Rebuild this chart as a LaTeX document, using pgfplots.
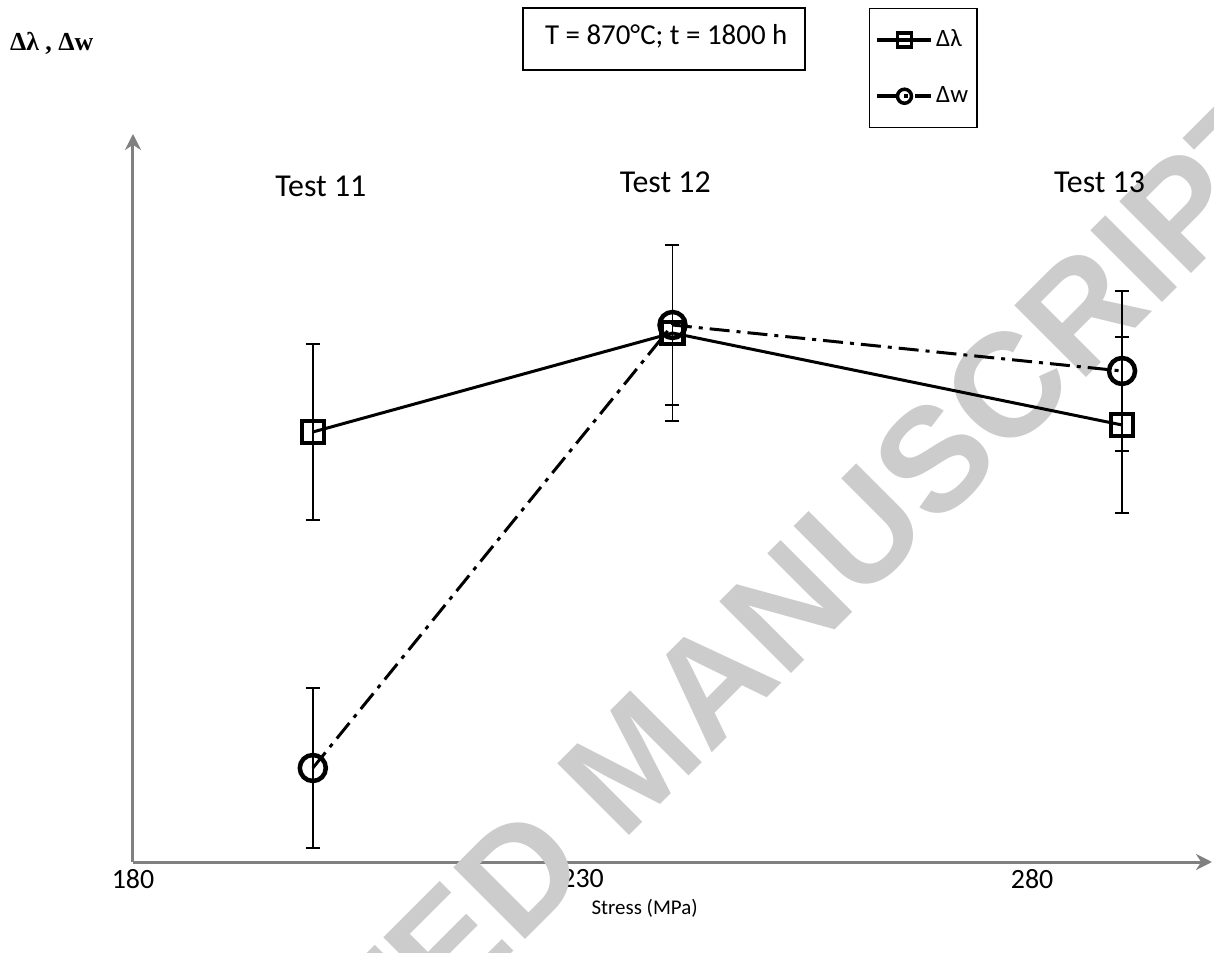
\documentclass[border=0pt]{standalone}
\usepackage{fontspec}
\setmainfont{Carlito}
\newfontfamily\seriffont{Liberation Serif}
\newfontfamily\wmfont{Liberation Sans}
\usepackage{pgfplots}
\pgfplotsset{compat=1.18}
\usetikzlibrary{arrows.meta}
\begin{document}
\begin{tikzpicture}
\useasboundingbox (-133bp,-91bp) rectangle (1081bp,862bp);
\begin{axis}[
  at={(0,0)}, anchor=south west,
  scale only axis, width=1079bp, height=728bp,
  xmin=180, xmax=300, ymin=0, ymax=728,
  axis lines=left,
  axis line style={draw=gray, line width=3bp, -{Stealth[length=16bp,width=16bp]}},
  xtick={180,230,280}, xticklabels={180,230,280},
  major tick length=0, ytick=\empty,
  xticklabel style={font=\fontsize{28}{32}\selectfont, yshift=-4bp},
  clip=false,
  legend style={at={(0.6821,1.1731)}, anchor=north west, draw=black, line width=1.5bp,
    inner xsep=6bp, inner ysep=20bp, row sep=33bp,
    font=\fontsize{25}{28}\selectfont,
    nodes={inner sep=3bp, text height=15bp, text depth=2bp}},
  legend cell align=left,
  legend image code/.code={\draw[#1, line width=3.5bp, mark size=7bp, mark options={line width=3.5bp, solid}, mark repeat=2, mark phase=2] plot coordinates {(0bp,0bp) (27bp,0bp) (54bp,0bp)};},
]
\node[overlay, rotate=45, text=black!20, font=\wmfont\bfseries\fontsize{148}{160}\selectfont] at (axis cs:235.6,102) {ACCEPTED MANUSCRIPT};

\addplot[black, line width=3bp, mark=square, mark size=11bp, mark options={line width=4.5bp, solid},
  error bars/.cd, y dir=both, y explicit,
  error bar style={line width=1.5bp, solid},
  error mark options={rotate=90, line width=2.5bp, mark size=7bp}]
  coordinates {(200,430) +- (0,88) (240,529) +- (0,88) (290,437) +- (0,88)};
\addlegendentry{Δλ}
\addplot[black, line width=3bp, dash pattern=on 20bp off 7bp on 4bp off 7bp, mark=o, mark size=13bp, mark options={line width=4.5bp, solid},
  error bars/.cd, y dir=both, y explicit,
  error bar style={line width=1.5bp, solid},
  error mark options={rotate=90, line width=2.5bp, mark size=7bp}]
  coordinates {(200,94) +- (0,80) (240,537) +- (0,80) (290,491) +- (0,80)};
\addlegendentry{Δw}

\node[font=\fontsize{32}{38}\selectfont] at (axis cs:200.9,676) {Test 11};
\node[font=\fontsize{32}{38}\selectfont] at (axis cs:239.2,680) {Test 12};
\node[font=\fontsize{32}{38}\selectfont] at (axis cs:287.5,680) {Test 13};
\node[font=\seriffont\bfseries\fontsize{26}{30}\selectfont, anchor=west, inner sep=0pt] at (axis cs:166.3,819) {Δλ , Δw};
\draw[line width=1.5bp] (axis cs:223.37,854) rectangle (axis cs:254.74,792);
\node[font=\fontsize{29}{34}\selectfont] at (axis cs:239.3,826) {T = 870°C; t = 1800 h};
\node[font=\fontsize{21}{26}\selectfont] at (axis cs:236.9,-46) {Stress (MPa)};
\end{axis}
\end{tikzpicture}
\end{document}
